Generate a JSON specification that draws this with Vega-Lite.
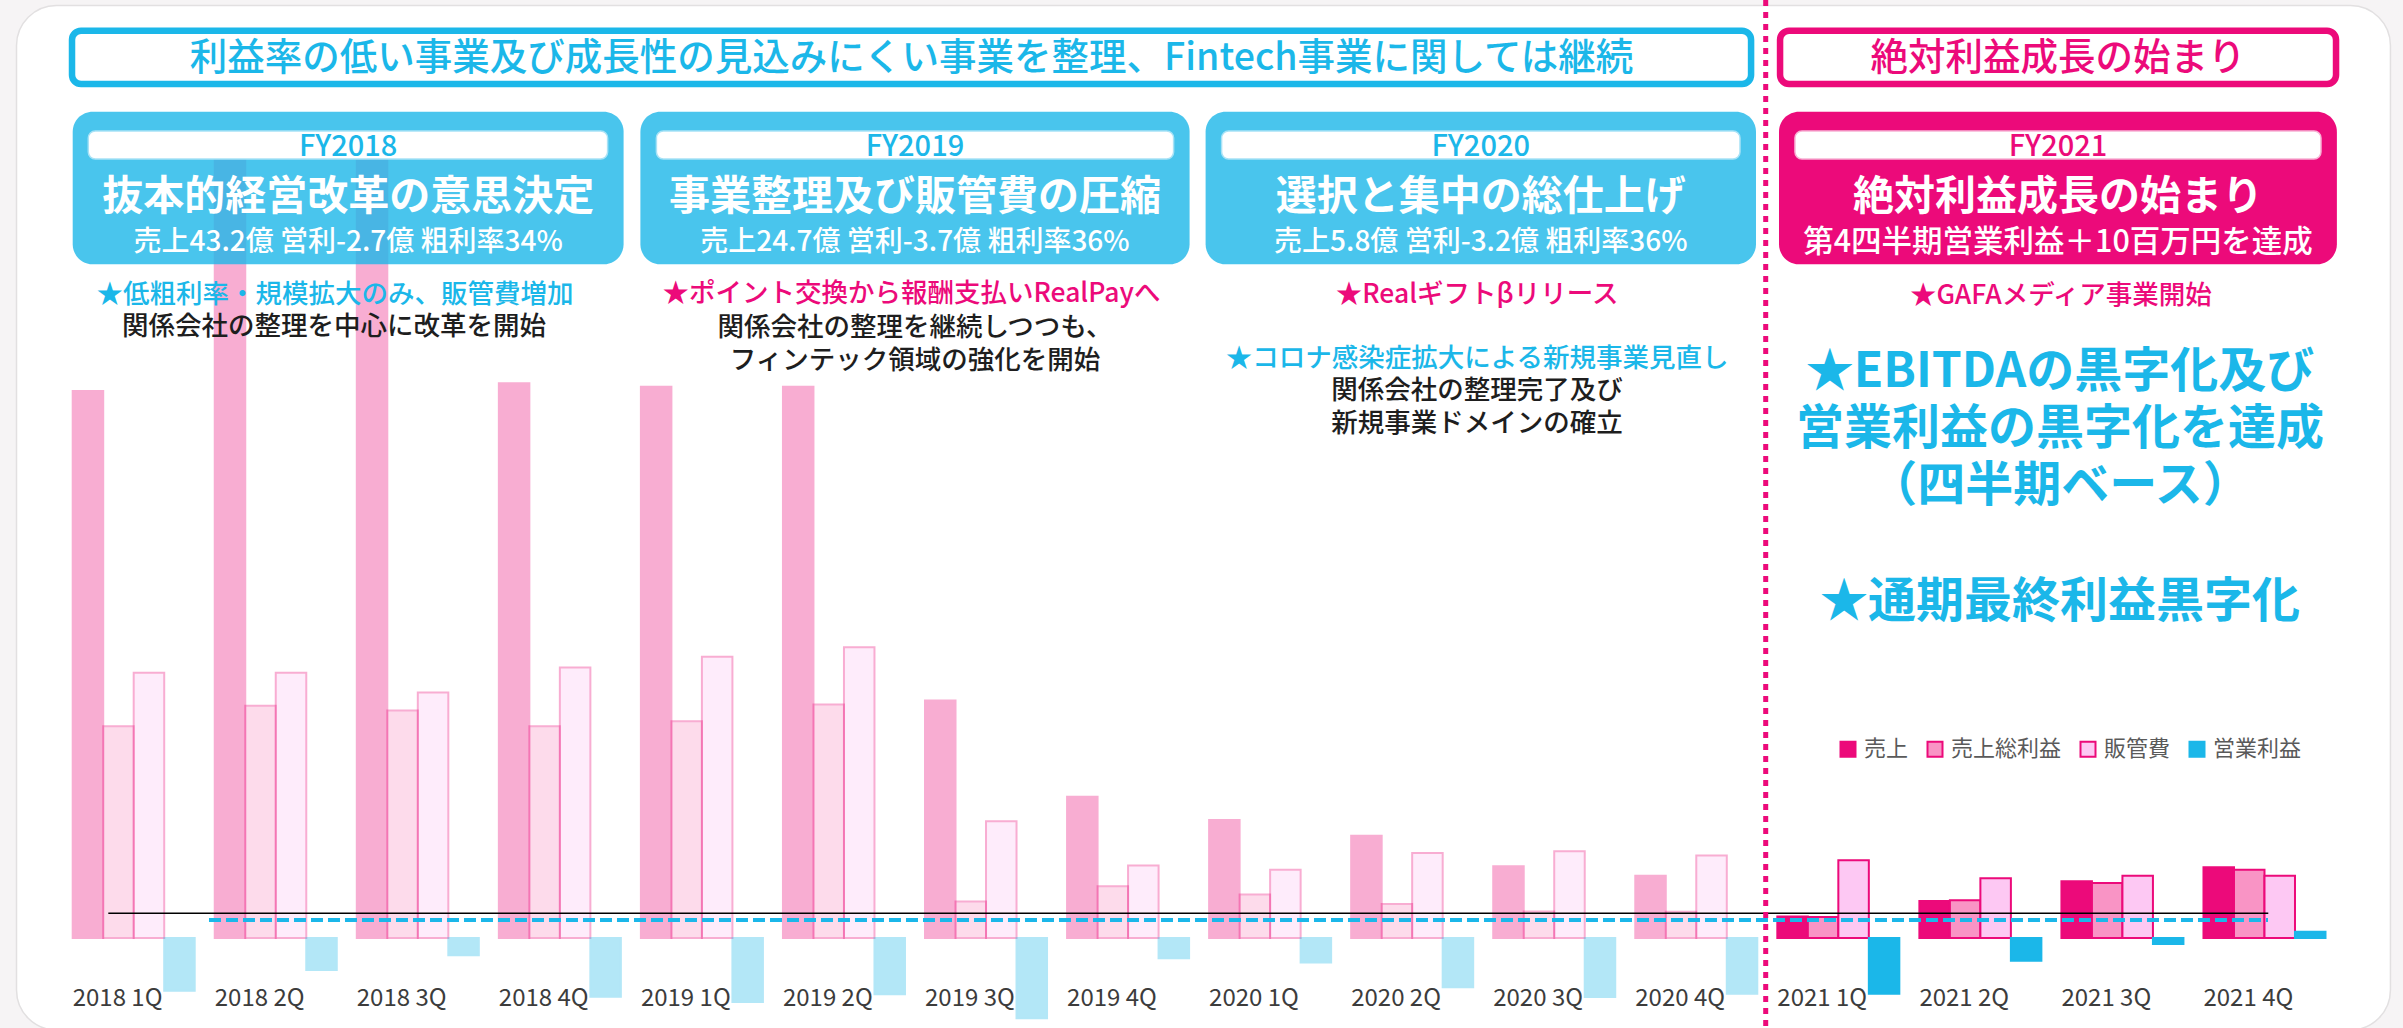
{
  "$schema": "https://vega.github.io/schema/vega-lite/v6.json",
  "width": 2403,
  "height": 1028,
  "padding": 0,
  "autosize": {"type": "none"},
  "background": "#f6f4f5",
  "config": {
    "view": {"stroke": null},
    "font": "Noto Sans CJK JP",
    "legend": {
      "orient": "none",
      "legendX": 1837,
      "legendY": 738,
      "direction": "horizontal",
      "symbolType": "square",
      "symbolSize": 225,
      "symbolStrokeWidth": 2,
      "symbolOpacity": 1,
      "labelFont": "Noto Sans CJK JP",
      "labelFontSize": 22,
      "labelColor": "#5a5a5a",
      "columnPadding": 14,
      "labelOffset": 5,
      "padding": 0
    }
  },
  "datasets": {
    "bars": [
      {"q": "2018 1Q", "fy": "FY2018", "s": "売上", "v": 9.14},
      {"q": "2018 1Q", "fy": "FY2018", "s": "売上総利益", "v": 3.54},
      {"q": "2018 1Q", "fy": "FY2018", "s": "販管費", "v": 4.43},
      {"q": "2018 1Q", "fy": "FY2018", "s": "営業利益", "v": -0.88},
      {"q": "2018 2Q", "fy": "FY2018", "s": "売上", "v": 13.2},
      {"q": "2018 2Q", "fy": "FY2018", "s": "売上総利益", "v": 3.88},
      {"q": "2018 2Q", "fy": "FY2018", "s": "販管費", "v": 4.43},
      {"q": "2018 2Q", "fy": "FY2018", "s": "営業利益", "v": -0.535},
      {"q": "2018 3Q", "fy": "FY2018", "s": "売上", "v": 13.2},
      {"q": "2018 3Q", "fy": "FY2018", "s": "売上総利益", "v": 3.8},
      {"q": "2018 3Q", "fy": "FY2018", "s": "販管費", "v": 4.1},
      {"q": "2018 3Q", "fy": "FY2018", "s": "営業利益", "v": -0.287},
      {"q": "2018 4Q", "fy": "FY2018", "s": "売上", "v": 9.27},
      {"q": "2018 4Q", "fy": "FY2018", "s": "売上総利益", "v": 3.54},
      {"q": "2018 4Q", "fy": "FY2018", "s": "販管費", "v": 4.52},
      {"q": "2018 4Q", "fy": "FY2018", "s": "営業利益", "v": -0.98},
      {"q": "2019 1Q", "fy": "FY2019", "s": "売上", "v": 9.21},
      {"q": "2019 1Q", "fy": "FY2019", "s": "売上総利益", "v": 3.62},
      {"q": "2019 1Q", "fy": "FY2019", "s": "販管費", "v": 4.7},
      {"q": "2019 1Q", "fy": "FY2019", "s": "営業利益", "v": -1.07},
      {"q": "2019 2Q", "fy": "FY2019", "s": "売上", "v": 9.21},
      {"q": "2019 2Q", "fy": "FY2019", "s": "売上総利益", "v": 3.9},
      {"q": "2019 2Q", "fy": "FY2019", "s": "販管費", "v": 4.86},
      {"q": "2019 2Q", "fy": "FY2019", "s": "営業利益", "v": -0.94},
      {"q": "2019 3Q", "fy": "FY2019", "s": "売上", "v": 3.97},
      {"q": "2019 3Q", "fy": "FY2019", "s": "売上総利益", "v": 0.61},
      {"q": "2019 3Q", "fy": "FY2019", "s": "販管費", "v": 1.95},
      {"q": "2019 3Q", "fy": "FY2019", "s": "営業利益", "v": -1.34},
      {"q": "2019 4Q", "fy": "FY2019", "s": "売上", "v": 2.36},
      {"q": "2019 4Q", "fy": "FY2019", "s": "売上総利益", "v": 0.865},
      {"q": "2019 4Q", "fy": "FY2019", "s": "販管費", "v": 1.21},
      {"q": "2019 4Q", "fy": "FY2019", "s": "営業利益", "v": -0.34},
      {"q": "2020 1Q", "fy": "FY2020", "s": "売上", "v": 1.97},
      {"q": "2020 1Q", "fy": "FY2020", "s": "売上総利益", "v": 0.727},
      {"q": "2020 1Q", "fy": "FY2020", "s": "販管費", "v": 1.14},
      {"q": "2020 1Q", "fy": "FY2020", "s": "営業利益", "v": -0.41},
      {"q": "2020 2Q", "fy": "FY2020", "s": "売上", "v": 1.71},
      {"q": "2020 2Q", "fy": "FY2020", "s": "売上総利益", "v": 0.568},
      {"q": "2020 2Q", "fy": "FY2020", "s": "販管費", "v": 1.42},
      {"q": "2020 2Q", "fy": "FY2020", "s": "営業利益", "v": -0.825},
      {"q": "2020 3Q", "fy": "FY2020", "s": "売上", "v": 1.2},
      {"q": "2020 3Q", "fy": "FY2020", "s": "売上総利益", "v": 0.444},
      {"q": "2020 3Q", "fy": "FY2020", "s": "販管費", "v": 1.45},
      {"q": "2020 3Q", "fy": "FY2020", "s": "営業利益", "v": -0.985},
      {"q": "2020 4Q", "fy": "FY2020", "s": "売上", "v": 1.04},
      {"q": "2020 4Q", "fy": "FY2020", "s": "売上総利益", "v": 0.437},
      {"q": "2020 4Q", "fy": "FY2020", "s": "販管費", "v": 1.38},
      {"q": "2020 4Q", "fy": "FY2020", "s": "営業利益", "v": -0.93},
      {"q": "2021 1Q", "fy": "FY2021", "s": "売上", "v": 0.36},
      {"q": "2021 1Q", "fy": "FY2021", "s": "売上総利益", "v": 0.35},
      {"q": "2021 1Q", "fy": "FY2021", "s": "販管費", "v": 1.3},
      {"q": "2021 1Q", "fy": "FY2021", "s": "営業利益", "v": -0.93},
      {"q": "2021 2Q", "fy": "FY2021", "s": "売上", "v": 0.62},
      {"q": "2021 2Q", "fy": "FY2021", "s": "売上総利益", "v": 0.63},
      {"q": "2021 2Q", "fy": "FY2021", "s": "販管費", "v": 1.0},
      {"q": "2021 2Q", "fy": "FY2021", "s": "営業利益", "v": -0.38},
      {"q": "2021 3Q", "fy": "FY2021", "s": "売上", "v": 0.95},
      {"q": "2021 3Q", "fy": "FY2021", "s": "売上総利益", "v": 0.92},
      {"q": "2021 3Q", "fy": "FY2021", "s": "販管費", "v": 1.04},
      {"q": "2021 3Q", "fy": "FY2021", "s": "営業利益", "v": -0.1},
      {"q": "2021 4Q", "fy": "FY2021", "s": "売上", "v": 1.18},
      {"q": "2021 4Q", "fy": "FY2021", "s": "売上総利益", "v": 1.14},
      {"q": "2021 4Q", "fy": "FY2021", "s": "販管費", "v": 1.04},
      {"q": "2021 4Q", "fy": "FY2021", "s": "営業利益", "v": 0.105}
    ]
  },
  "resolve": {"scale": {"x": "independent", "y": "independent"}},
  "layer": [
    {
      "encoding": {
        "x": {"field": "qx", "type": "quantitative", "scale": {"domain": [-0.94122, 15.9754], "nice": false, "zero": false}, "axis": null},
        "y": {"field": "vy", "type": "quantitative", "scale": {"domain": [-1.5038, 15.6725], "nice": false, "zero": false}, "axis": null}
      },
      "layer": [
        {
          "data": {"values": [{"qx": -0.825, "qx2": 15.887, "vy": 15.58, "vy2": -1.537}]},
          "mark": {"type": "rect", "fill": "#ffffff", "stroke": "#e2e0e1", "strokeWidth": 1.5, "cornerRadius": 40},
          "encoding": {"x2": {"field": "qx2"}, "y2": {"field": "vy2"}}
        },
        {
          "data": {"values": [{"vy": 0}, {"vy": 2}, {"vy": 4}, {"vy": 6}, {"vy": 8}, {"vy": 10}, {"vy": 12}, {"vy": 14}]},
          "mark": {"type": "rule", "color": "#f0f0f0", "strokeWidth": 2.5},
          "encoding": {"x": {"datum": -0.4977, "type": "quantitative"}, "x2": {"datum": 11.428}}
        },
        {
          "data": {"values": [{"vy": 0}, {"vy": 2}, {"vy": 4}, {"vy": 6}, {"vy": 8}, {"vy": 10}, {"vy": 12}, {"vy": 14}]},
          "mark": {"type": "rule", "color": "#d9d9d9", "strokeWidth": 2.5},
          "encoding": {"x": {"datum": 11.562, "type": "quantitative"}, "x2": {"datum": 15.504}}
        }
      ]
    },
    {
      "data": {"name": "bars"},
      "layer": [
        {
          "mark": {"type": "bar", "strokeWidth": 2},
          "encoding": {
            "x": {"field": "q", "type": "nominal", "sort": null, "axis": null,
              "scale": {"domain": ["2018 1Q", "2018 2Q", "2018 3Q", "2018 4Q", "2019 1Q", "2019 2Q", "2019 3Q", "2019 4Q", "2020 1Q", "2020 2Q", "2020 3Q", "2020 4Q", "2021 1Q", "2021 2Q", "2021 3Q", "2021 4Q"], "paddingInner": 0.1411, "paddingOuter": 0.5287, "align": 0.484}},
            "xOffset": {"field": "s", "type": "nominal", "sort": null,
              "scale": {"domain": ["売上", "売上総利益", "販管費", "営業利益"], "paddingInner": 0, "paddingOuter": 0}},
            "y": {"field": "v", "type": "quantitative", "axis": null, "scale": {"domain": [-1.5038, 15.6725], "nice": false}},
            "fill": {"field": "s", "type": "nominal", "sort": null, "legend": {"title": null},
              "scale": {"domain": ["売上", "売上総利益", "販管費", "営業利益"], "range": ["#ec0a7a", "#f994c5", "#fdc8f3", "#1bb7e9"]}},
            "stroke": {"field": "s", "type": "nominal", "sort": null, "legend": {"title": null},
              "scale": {"domain": ["売上", "売上総利益", "販管費", "営業利益"], "range": ["#ec0a7a", "#ec0a7a", "#ec0a7a", "#1bb7e9"]}},
            "opacity": {"condition": {"test": "datum.fy === 'FY2021'", "value": 1}, "value": 0.33}
          }
        },
        {
          "transform": [{"filter": "datum.s === '売上'"}],
          "mark": {"type": "text", "align": "left", "baseline": "middle", "fontSize": 24, "color": "#3c3c3c", "font": "Noto Sans CJK JP"},
          "encoding": {
            "x": {"field": "q", "type": "nominal", "sort": null, "bandPosition": 0, "axis": null},
            "y": {"datum": -1.023, "type": "quantitative"},
            "text": {"field": "q"}
          }
        }
      ]
    },
    {
      "encoding": {
        "x": {"field": "qx", "type": "quantitative", "scale": {"domain": [-0.94122, 15.9754], "nice": false, "zero": false}, "axis": null},
        "y": {"field": "vy", "type": "quantitative", "scale": {"domain": [-1.5038, 15.6725], "nice": false, "zero": false}, "axis": null}
      },
      "layer": [
        {
          "data": {"values": [{"qx": -0.1788, "qx2": 15.027, "vy": 0.4127}]},
          "mark": {"type": "rule", "color": "#000000", "strokeWidth": 1.5},
          "encoding": {"x2": {"field": "qx2"}}
        },
        {
          "data": {"values": [{"qx": 0.53, "qx2": 15.025, "vy": 0.3008}]},
          "mark": {"type": "rule", "color": "#1bb7e9", "strokeWidth": 4, "strokeDash": [12, 5]},
          "encoding": {"x2": {"field": "qx2"}}
        },
        {
          "data": {"values": [{"qx": -0.4343, "qx2": 11.386, "vy": 15.159, "vy2": 14.269}]},
          "mark": {"type": "rect", "fill": "#ffffff", "stroke": "#1bb7e9", "strokeWidth": 6.5, "cornerRadius": 9},
          "encoding": {"x2": {"field": "qx2"}, "y2": {"field": "vy2"}}
        },
        {
          "data": {"values": [{"qx": 11.59, "qx2": 15.504, "vy": 15.159, "vy2": 14.269}]},
          "mark": {"type": "rect", "fill": "#ffffff", "stroke": "#ec0a7a", "strokeWidth": 6.5, "cornerRadius": 9},
          "encoding": {"x2": {"field": "qx2"}, "y2": {"field": "vy2"}}
        },
        {
          "data": {"values": [
            {"qx": -0.4294, "qx2": 3.4488, "vy": 13.806, "vy2": 11.256},
            {"qx": 3.567, "qx2": 7.4333, "vy": 13.806, "vy2": 11.256},
            {"qx": 7.546, "qx2": 11.4206, "vy": 13.806, "vy2": 11.256}
          ]},
          "mark": {"type": "rect", "fill": "#1bb7e9", "fillOpacity": 0.8, "cornerRadius": 20},
          "encoding": {"x2": {"field": "qx2"}, "y2": {"field": "vy2"}}
        },
        {
          "data": {"values": [{"qx": 11.5826, "qx2": 15.51, "vy": 13.806, "vy2": 11.256}]},
          "mark": {"type": "rect", "fill": "#ec0a7a", "cornerRadius": 20},
          "encoding": {"x2": {"field": "qx2"}, "y2": {"field": "vy2"}}
        },
        {
          "data": {"values": [
            {"qx": -0.3196, "qx2": 3.3362, "vy": 13.484, "vy2": 13.016},
            {"qx": 3.6797, "qx2": 7.3207, "vy": 13.484, "vy2": 13.016},
            {"qx": 7.6586, "qx2": 11.308, "vy": 13.484, "vy2": 13.016}
          ]},
          "mark": {"type": "rect", "fill": "#ffffff", "stroke": "#a8e2f6", "strokeWidth": 1.5, "cornerRadius": 7},
          "encoding": {"x2": {"field": "qx2"}, "y2": {"field": "vy2"}}
        },
        {
          "data": {"values": [{"qx": 11.695, "qx2": 15.398, "vy": 13.484, "vy2": 13.016}]},
          "mark": {"type": "rect", "fill": "#ffffff", "stroke": "#f7b3d5", "strokeWidth": 1.5, "cornerRadius": 7},
          "encoding": {"x2": {"field": "qx2"}, "y2": {"field": "vy2"}}
        },
        {
          "data": {"values": [{"t": "利益率の低い事業及び成長性の見込みにくい事業を整理、Fintech事業に関しては継続", "qx": 5.4755, "vy": 14.693}]},
          "mark": {"type": "text", "align": "center", "baseline": "middle", "fontSize": 37.5, "fontWeight": 500, "fill": "#1bb7e9"},
          "encoding": {"text": {"field": "t"}}
        },
        {
          "data": {"values": [{"t": "絶対利益成長の始まり", "qx": 13.547, "vy": 14.693}]},
          "mark": {"type": "text", "align": "center", "baseline": "middle", "fontSize": 37.5, "fontWeight": 500, "fill": "#ec0a7a"},
          "encoding": {"text": {"field": "t"}}
        },
        {
          "data": {"values": [
            {"t": "FY2018", "qx": 1.5098, "vy": 13.216},
            {"t": "FY2019", "qx": 5.5, "vy": 13.216},
            {"t": "FY2020", "qx": 9.483, "vy": 13.216}
          ]},
          "mark": {"type": "text", "align": "center", "baseline": "middle", "fontSize": 29, "fontWeight": 500, "fill": "#1bb7e9"},
          "encoding": {"text": {"field": "t"}}
        },
        {
          "data": {"values": [{"t": "FY2021", "qx": 13.547, "vy": 13.216}]},
          "mark": {"type": "text", "align": "center", "baseline": "middle", "fontSize": 29, "fontWeight": 500, "fill": "#ec0a7a"},
          "encoding": {"text": {"field": "t"}}
        },
        {
          "data": {"values": [
            {"t": "抜本的経営改革の意思決定", "qx": 1.5098, "vy": 12.36},
            {"t": "事業整理及び販管費の圧縮", "qx": 5.5, "vy": 12.36},
            {"t": "選択と集中の総仕上げ", "qx": 9.483, "vy": 12.36},
            {"t": "絶対利益成長の始まり", "qx": 13.547, "vy": 12.36}
          ]},
          "mark": {"type": "text", "align": "center", "baseline": "middle", "fontSize": 41, "fontWeight": "bold", "fill": "#ffffff"},
          "encoding": {"text": {"field": "t"}}
        },
        {
          "data": {"values": [
            {"t": "売上43.2億 営利-2.7億 粗利率34%", "qx": 1.5098, "vy": 11.62},
            {"t": "売上24.7億 営利-3.7億 粗利率36%", "qx": 5.5, "vy": 11.62},
            {"t": "売上5.8億 営利-3.2億 粗利率36%", "qx": 9.483, "vy": 11.62}
          ]},
          "mark": {"type": "text", "align": "center", "baseline": "middle", "fontSize": 28, "fontWeight": 500, "fill": "#ffffff"},
          "encoding": {"text": {"field": "t"}}
        },
        {
          "data": {"values": [{"t": "第4四半期営業利益＋10百万円を達成", "qx": 13.547, "vy": 11.62}]},
          "mark": {"type": "text", "align": "center", "baseline": "middle", "fontSize": 30.5, "fontWeight": 500, "fill": "#ffffff"},
          "encoding": {"text": {"field": "t"}}
        },
        {
          "data": {"values": [
            {"t": "★低粗利率・規模拡大のみ、販管費増加", "qx": 1.4166, "vy": 10.745},
            {"t": "★コロナ感染症拡大による新規事業見直し", "qx": 9.457, "vy": 9.676}
          ]},
          "mark": {"type": "text", "align": "center", "baseline": "middle", "fontSize": 26.5, "fontWeight": 500, "fill": "#1bb7e9"},
          "encoding": {"text": {"field": "t"}}
        },
        {
          "data": {"values": [
            {"t": "★ポイント交換から報酬支払いRealPayへ", "qx": 5.475, "vy": 10.762},
            {"t": "★Realギフトβリリース", "qx": 9.457, "vy": 10.745},
            {"t": "★GAFAメディア事業開始", "qx": 13.567, "vy": 10.729}
          ]},
          "mark": {"type": "text", "align": "center", "baseline": "middle", "fontSize": 26.5, "fontWeight": 500, "fill": "#ec0a7a"},
          "encoding": {"text": {"field": "t"}}
        },
        {
          "data": {"values": [
            {"t": "関係会社の整理を中心に改革を開始", "qx": 1.41, "vy": 10.205},
            {"t": "関係会社の整理を継続しつつも、", "qx": 5.5, "vy": 10.194},
            {"t": "フィンテック領域の強化を開始", "qx": 5.5, "vy": 9.642},
            {"t": "関係会社の整理完了及び", "qx": 9.457, "vy": 9.141},
            {"t": "新規事業ドメインの確立", "qx": 9.457, "vy": 8.59}
          ]},
          "mark": {"type": "text", "align": "center", "baseline": "middle", "fontSize": 26.5, "fontWeight": 500, "fill": "#1e1e1e"},
          "encoding": {"text": {"field": "t"}}
        },
        {
          "data": {"values": [
            {"t": "★EBITDAの黒字化及び", "qx": 13.561, "vy": 9.434},
            {"t": "営業利益の黒字化を達成", "qx": 13.561, "vy": 8.49},
            {"t": "（四半期ベース）", "qx": 13.561, "vy": 7.529},
            {"t": "★通期最終利益黒字化", "qx": 13.561, "vy": 5.591}
          ]},
          "mark": {"type": "text", "align": "center", "baseline": "middle", "fontSize": 48, "fontWeight": "bold", "fill": "#1bb7e9"},
          "encoding": {"text": {"field": "t"}}
        },
        {
          "data": {"values": [{"qx": 11.489, "vy": 15.6725, "vy2": -1.5038}]},
          "mark": {"type": "rule", "color": "#ec0a7a", "strokeWidth": 5, "strokeDash": [6, 6]},
          "encoding": {"y2": {"field": "vy2"}}
        }
      ]
    }
  ]
}
